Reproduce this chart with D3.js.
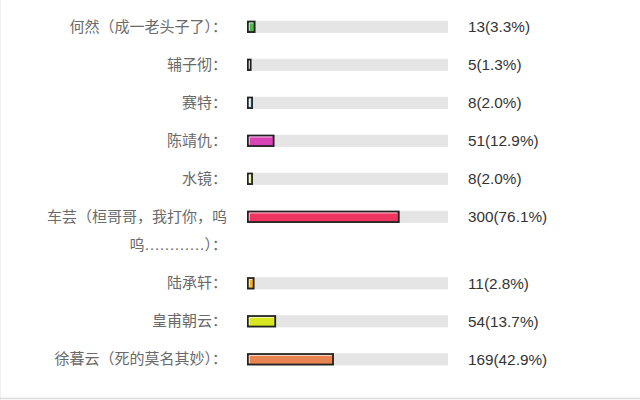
<!DOCTYPE html>
<html>
<head>
<meta charset="utf-8">
<script src="https://cdn.jsdelivr.net/npm/d3@7"></script>
<style>
html,body{margin:0;padding:0;background:#fff;}
svg{display:block;}
</style>
</head>
<body>
<svg id="chart" width="640" height="400"></svg>
<script>
// ---- data ----
const labels = [
  ["何然（成一老头子了）："],
  ["辅子彻："],
  ["赛特："],
  ["陈靖仇："],
  ["水镜："],
  ["车芸（桓哥哥，我打你，呜", "呜…………）："],
  ["陆承轩："],
  ["皇甫朝云："],
  ["徐暮云（死的莫名其妙）："]
];
const counts = [13, 5, 8, 51, 8, 300, 11, 54, 169];
const percents = [3.3, 1.3, 2.0, 12.9, 2.0, 76.1, 2.8, 13.7, 42.9];
const colors = ["#4cb84a", "#9a9a9a", "#c6e4f2", "#d843b5", "#e8f5a6", "#ee3560", "#f5b324", "#d6e620", "#e8844f"];

// ---- layout ----
const svg = d3.select("#chart");
const trackX = 247, trackW = 201;
const rowStep = 38, lineStep = 28.5, firstRow = 26.8;
const barH = 10.5, sw = 1.8;

const x = d3.scaleLinear().domain([0, 100]).range([trackX, trackX + trackW]);
const wScale = d3.scaleLinear().domain([0, 100]).range([2, 200]);

// row centers: cumulative, extra space for wrapped labels
const rowY = [];
let acc = firstRow;
labels.forEach((l, i) => { rowY.push(acc); acc += rowStep + (l.length - 1) * lineStep; });

// frame lines
svg.append("line").attr("x1", 0.5).attr("x2", 0.5).attr("y1", 0).attr("y2", 400)
  .attr("stroke", "#efefef").attr("stroke-width", 1);
svg.append("line").attr("x1", 0).attr("x2", 640).attr("y1", 398.5).attr("y2", 398.5)
  .attr("stroke", "#dcdcdc").attr("stroke-width", 1.5);

const rows = svg.selectAll("g.row").data(counts).join("g").attr("class", "row");

// tracks
rows.append("rect")
  .attr("x", x(0)).attr("y", (d, i) => rowY[i] - barH / 2 - 0.8)
  .attr("width", x(100) - x(0)).attr("height", barH + 1.6)
  .attr("fill", "#e5e5e5");

// bars (outer width = wScale(pct))
rows.append("rect")
  .attr("x", x(0) + sw / 2).attr("y", (d, i) => rowY[i] - barH / 2)
  .attr("width", (d, i) => Math.max(1, wScale(percents[i]) - sw))
  .attr("height", barH)
  .attr("fill", (d, i) => colors[i])
  .attr("stroke", "#222").attr("stroke-width", sw);

// inner highlight
rows.append("path")
  .attr("d", (d, i) => {
    const x0 = x(0) + sw + 0.5, y0 = rowY[i] - barH / 2 + sw / 2 + 0.5;
    const w = Math.max(0.5, wScale(percents[i]) - 2 * sw - 1);
    return `M${x0},${y0 + barH - sw - 1}V${y0}H${x0 + w}`;
  })
  .attr("fill", "none").attr("stroke", "rgba(255,255,255,0.7)").attr("stroke-width", 1);

// labels
rows.each(function (d, i) {
  const g = d3.select(this);
  labels[i].forEach((line, j) => {
    g.append("text")
      .attr("x", 227).attr("y", rowY[i] + j * lineStep)
      .attr("text-anchor", "end").attr("dominant-baseline", "central")
      .attr("font-family", "'Liberation Serif','Noto Sans CJK SC',serif")
      .attr("font-size", 15).attr("fill", "#6a6a6a")
      .text(line);
  });
});

// values
rows.append("text")
  .attr("x", 468).attr("y", (d, i) => rowY[i])
  .attr("dominant-baseline", "central")
  .attr("font-family", "'Liberation Sans',Arial,sans-serif")
  .attr("font-size", 15.3).attr("fill", "#333")
  .text((d, i) => `${d}(${percents[i].toFixed(1)}%)`);
</script>
</body>
</html>
